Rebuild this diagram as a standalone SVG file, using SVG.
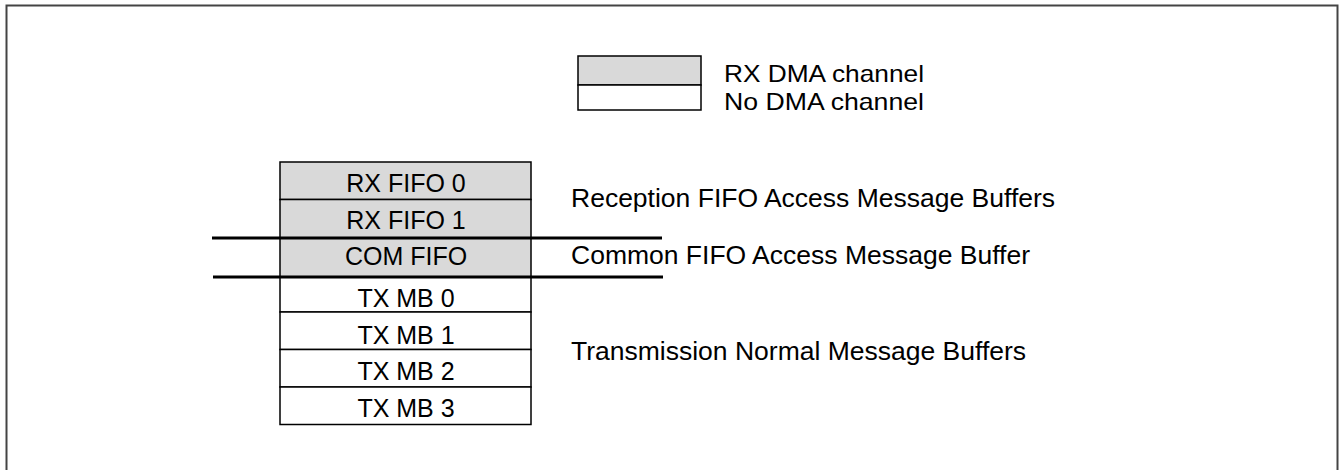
<svg xmlns="http://www.w3.org/2000/svg" width="1340" height="470" viewBox="0 0 1340 470">
<style>
text{font-family:"Liberation Sans",Arial,sans-serif;font-size:26.5px;fill:#000}
.c{text-anchor:middle;font-size:25px}
.lg{font-size:24px}
.g{fill:#d9d9d9;stroke:#000;stroke-width:1.5}
.w{fill:#fff;stroke:#000;stroke-width:1.5}
.sep{stroke:#000;stroke-width:3}
</style>
<rect x="6.5" y="5.5" width="1331" height="470" fill="none" stroke="#444" stroke-width="2"/>
<g id="legend">
<rect class="g" x="578" y="56" width="123" height="29"/>
<rect class="w" x="578" y="85" width="123" height="25"/>
<text class="lg" x="724" y="82" textLength="200" lengthAdjust="spacingAndGlyphs">RX DMA channel</text>
<text class="lg" x="724" y="110" textLength="200" lengthAdjust="spacingAndGlyphs">No DMA channel</text>
</g>
<g id="rxfifo0"><rect class="g" x="280" y="162" width="251" height="37.5"/><text class="c" x="406" y="191.5">RX FIFO 0</text></g>
<g id="rxfifo1"><rect class="g" x="280" y="199.5" width="251" height="38.5"/><text class="c" x="406" y="228.5">RX FIFO 1</text></g>
<g id="comfifo"><rect class="g" x="280" y="238" width="251" height="39"/><text class="c" x="406" y="265">COM FIFO</text></g>
<g id="txmb0"><rect class="w" x="280" y="277" width="251" height="35"/><text class="c" x="406" y="307">TX MB 0</text></g>
<g id="txmb1"><rect class="w" x="280" y="312" width="251" height="37.5"/><text class="c" x="406" y="343.5">TX MB 1</text></g>
<g id="txmb2"><rect class="w" x="280" y="349.5" width="251" height="37.5"/><text class="c" x="406" y="380">TX MB 2</text></g>
<g id="txmb3"><rect class="w" x="280" y="387" width="251" height="37.5"/><text class="c" x="406" y="417">TX MB 3</text></g>
<g id="connectors">
<line class="sep" x1="212" y1="238" x2="662" y2="238"/>
<line class="sep" x1="213" y1="277" x2="663" y2="277"/>
</g>
<g id="labels">
<text x="571" y="206.5">Reception FIFO Access Message Buffers</text>
<text x="571" y="264">Common FIFO Access Message Buffer</text>
<text x="571" y="360">Transmission Normal Message Buffers</text>
</g>
</svg>
